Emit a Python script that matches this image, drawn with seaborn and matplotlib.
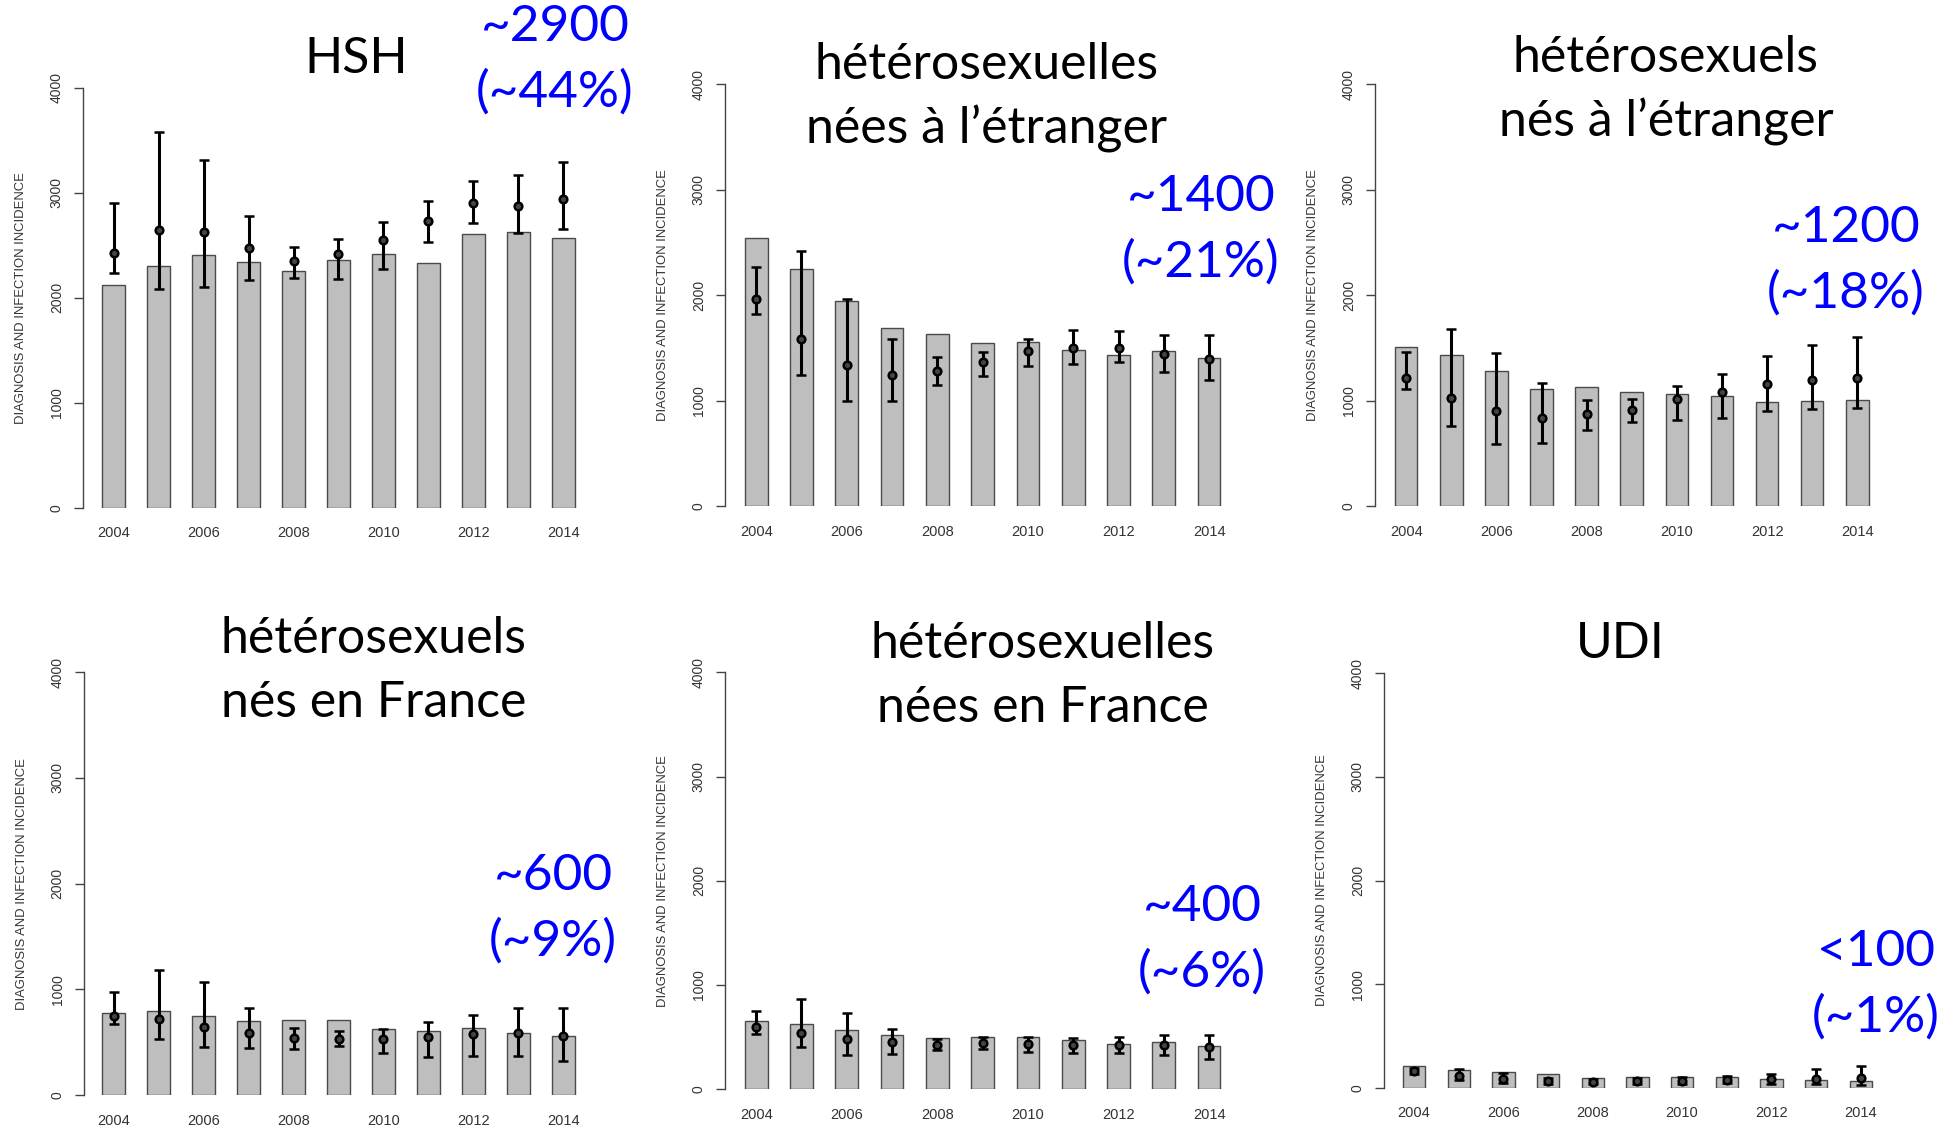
""" Six-panel HIV incidence bars (R-style barplots with error bars) """

import numpy as np
import seaborn as sns
from matplotlib import pyplot as plt

# #############################################
# Data
years = [str(y) for y in range(2004, 2015)]

hsh_bar = [2124, 2298, 2403, 2340, 2257, 2356, 2419, 2333, 2606, 2622, 2571]
hsh_pt = [2422, 2648, 2625, 2476, 2349, 2413, 2546, 2727, 2905, 2873, 2937]
hsh_lo = [2232, 2086, 2102, 2168, 2184, 2175, 2273, 2530, 2711, 2613, 2651]
hsh_hi = [2905, 3578, 3314, 2778, 2483, 2559, 2721, 2924, 3108, 3171, 3292]

hfe_bar = [2537, 2246, 1946, 1690, 1630, 1542, 1558, 1482, 1428, 1469, 1406]
hfe_pt = [1965, 1583, 1333, 1239, 1283, 1365, 1469, 1501, 1501, 1438, 1393]
hfe_lo = [1820, 1245, 995, 995, 1147, 1232, 1327, 1349, 1362, 1270, 1194]
hfe_hi = [2262, 2414, 1962, 1583, 1415, 1463, 1580, 1668, 1656, 1624, 1621]

hme_bar = [1511, 1429, 1284, 1110, 1129, 1085, 1059, 1047, 987, 993, 1002]
hme_pt = [1211, 1028, 898, 838, 873, 914, 1012, 1078, 1157, 1192, 1217]
hme_lo = [1107, 759, 591, 597, 721, 800, 819, 838, 904, 920, 933]
hme_hi = [1464, 1676, 1455, 1164, 1002, 1012, 1138, 1249, 1426, 1524, 1603]

hmf_bar = [776, 792, 744, 700, 713, 707, 628, 606, 634, 590, 562]
hmf_pt = [751, 716, 647, 590, 539, 533, 527, 549, 577, 590, 562]
hmf_lo = [672, 530, 451, 442, 435, 467, 394, 363, 372, 372, 325]
hmf_hi = [972, 1186, 1066, 820, 631, 606, 625, 691, 757, 823, 826]

hff_bar = [655, 627, 569, 524, 489, 499, 499, 476, 432, 454, 416]
hff_pt = [598, 544, 480, 451, 428, 444, 435, 422, 422, 425, 403]
hff_lo = [528, 403, 326, 342, 374, 384, 355, 348, 345, 326, 294]
hff_hi = [751, 867, 732, 576, 483, 499, 499, 489, 505, 524, 524]

udi_bar = [209, 171, 154, 132, 90, 106, 106, 100, 87, 77, 68]
udi_pt = [158, 113, 84, 64, 58, 68, 68, 74, 80, 87, 90]
udi_lo = [129, 74, 48, 39, 32, 39, 39, 42, 32, 32, 23]
udi_hi = [193, 177, 145, 90, 87, 93, 100, 116, 135, 183, 212]

titles = ['HSH',
          'hétérosexuelles\nnées à l\u2019étranger',
          'hétérosexuels\nnés à l\u2019étranger',
          'hétérosexuels\nnés en France',
          'hétérosexuelles\nnées en France',
          'UDI']
counts = ['~2900', '~1400', '~1200', '~600', '~400', '<100']
shares = ['(~44%)', '(~21%)', '(~18%)', '(~9%)', '(~6%)', '(~1%)']

# #############################################
# Layout in pixels of the 1943x1127 canvas
W, H = 1943, 1127
# axis_x, y0, y4000, center first bar, center last bar
geom = [(83, 507.7, 87.7, 113.7, 563.3),
        (725, 506, 84, 756.2, 1209.1),
        (1375, 506, 84.3, 1406.2, 1857.3),
        (83.7, 1095, 672.3, 113.7, 563.3),
        (725, 1089.3, 672.3, 756.2, 1209.1),
        (1384, 1087.7, 673.3, 1414.1, 1860.8)]
# title center (x, y of first line), line step
title_pos = [(356, 59), (987, 65), (1666, 58), (374, 639), (1043, 644), (1620, 644)]
blue_pos = [(555, 27), (1201, 197), (1846, 228), (553, 876), (1202, 907), (1876, 952)]


def px(x, y):
    return x / W, 1 - y / H


def main():
    sns.set_style('white')
    plt.rcParams['font.family'] = ['Liberation Sans', 'DejaVu Sans']

    fig = plt.figure(figsize=(W / 100, H / 100), dpi=100)

    series = [(hsh_bar, hsh_pt, hsh_lo, hsh_hi),
              (hfe_bar, hfe_pt, hfe_lo, hfe_hi),
              (hme_bar, hme_pt, hme_lo, hme_hi),
              (hmf_bar, hmf_pt, hmf_lo, hmf_hi),
              (hff_bar, hff_pt, hff_lo, hff_hi),
              (udi_bar, udi_pt, udi_lo, udi_hi)]

    for ii, (bar, pt, lo, hi) in enumerate(series):
        ax_x, y0, y4, c0, c10 = geom[ii]
        sp = (c10 - c0) / 10.
        right = c10 + 0.6 * sp
        ax = fig.add_axes([ax_x / W, 1 - y0 / H, (right - ax_x) / W, (y0 - y4) / H])

        sns.barplot(x=years, y=bar, color='#BEBEBE', saturation=1,
                    edgecolor='#4a4a4a', linewidth=1.0, width=0.5,
                    errorbar=None, ax=ax)
        pt = np.array(pt)
        ax.errorbar(np.arange(len(years)), pt,
                    yerr=[pt - np.array(lo), np.array(hi) - pt],
                    fmt='o', color='black', ecolor='black', elinewidth=2.2,
                    capsize=3.5, capthick=2.2, ms=5.5, mfc='#444444',
                    mec='black', mew=1.8, zorder=5)

        ax.set_xlim(-(c0 - ax_x) / sp, 10.6)
        ax.set_ylim(0, 4000)
        ax.set_xlabel('')
        ax.set_ylabel('')
        for side in ['top', 'right', 'bottom']:
            ax.spines[side].set_visible(False)
        ax.spines['left'].set_bounds(0, 4000)
        ax.spines['left'].set_color('#444444')
        ax.spines['left'].set_linewidth(1.0)

        ax.set_yticks([0, 1000, 2000, 3000, 4000])
        ax.set_yticklabels(['0', '1000', '2000', '3000', '4000'])
        ax.tick_params(axis='y', direction='out', length=6.3, width=1.0,
                       color='#444444', pad=7.5, labelsize=10,
                       labelcolor='#333333', left=True)
        for lab in ax.get_yticklabels():
            lab.set_rotation(90)
            lab.set_va('center')
        ax.set_xticks(range(0, 11, 2))
        ax.set_xticklabels(years[::2])
        ax.tick_params(axis='x', length=0, pad=13.5, labelsize=10.5,
                       labelcolor='#333333')

        # y label
        fig.text(*px(ax_x - 62, (y0 + y4) / 2),
                 'DIAGNOSIS AND INFECTION INCIDENCE', rotation=90,
                 ha='center', va='center', fontsize=9.4, color='#333333')

        # Title
        tx, ty = title_pos[ii]
        for jj, line in enumerate(titles[ii].split('\n')):
            fig.text(*px(tx, ty + 64 * jj), line, ha='center', va='center',
                     fontsize=36, family=['Lato', 'DejaVu Sans'], color='black')

        # Blue annotation
        bx, by = blue_pos[ii]
        fig.text(*px(bx, by), counts[ii], ha='center', va='center',
                 fontsize=37, family=['Lato', 'DejaVu Sans'], color='#0000FF')
        fig.text(*px(bx, by + 65), shares[ii], ha='center', va='center',
                 fontsize=37, family=['Lato', 'DejaVu Sans'], color='#0000FF')

    plt.savefig('out.png', dpi=100)
    print('Saved: out.png')


if __name__ == '__main__':
    main()
